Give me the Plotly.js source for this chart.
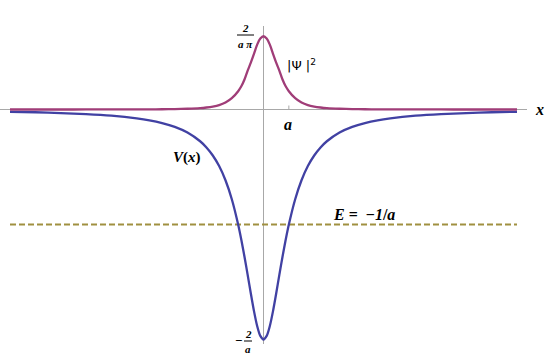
<!DOCTYPE html>
<html><head><meta charset="utf-8">
<script src="https://cdn.plot.ly/plotly-3.0.1.min.js"></script>
<style>html,body{margin:0;padding:0;background:#fff}#chart{width:545px;height:356px}</style>
</head><body><div id="chart"></div>
<script>
// x positions in units of a
const xs = [-10,-9,-8,-7,-6,-5,-4.5,-4,-3.5,-3,-2.5,-2.25,-2,-1.75,-1.5,-1.25,-1,-0.875,-0.75,-0.625,-0.5,-0.375,-0.25,-0.125,0,
            0.125,0.25,0.375,0.5,0.625,0.75,0.875,1,1.25,1.5,1.75,2,2.25,2.5,3,3.5,4,4.5,5,6,7,8,9,10];
// |Psi|^2 values (units of 1/a)
const psi = [0.0001,0.0001,0.0002,0.0003,0.0005,0.0009,0.0014,0.0022,0.0037,0.0064,0.0118,0.0175,0.0255,0.038,0.0603,0.098,0.159,0.202,0.261,0.338,0.407,0.484,0.564,0.617,0.637,
             0.617,0.564,0.484,0.407,0.338,0.261,0.202,0.159,0.098,0.0603,0.038,0.0255,0.0175,0.0118,0.0064,0.0037,0.0022,0.0014,0.0009,0.0005,0.0003,0.0002,0.0001,0.0001];
// V(x) values (units of 1/a)
const V = [-0.020,-0.024,-0.031,-0.040,-0.054,-0.077,-0.094,-0.118,-0.151,-0.200,-0.276,-0.330,-0.400,-0.492,-0.615,-0.780,-1.000,-1.133,-1.280,-1.438,-1.600,-1.753,-1.882,-1.969,-2.000,
           -1.969,-1.882,-1.753,-1.600,-1.438,-1.280,-1.133,-1.000,-0.780,-0.615,-0.492,-0.400,-0.330,-0.276,-0.200,-0.151,-0.118,-0.094,-0.077,-0.054,-0.040,-0.031,-0.024,-0.020];
const Ex = [-10, 10];
const Ey = [-1, -1];

const W = 545, H = 356;
const x0px = 263.5, xs_px = 25.35, y0px = 109.5, ys_px = 115;
const xmin = -x0px/xs_px, xmax = (W-x0px)/xs_px;
const ymax = y0px/ys_px, ymin = -(H-y0px)/ys_px;
const X = p => xmin + p/W*(xmax-xmin);
const Y = p => ymax - p/H*(ymax-ymin);

const serif = 'Liberation Serif';
const traces = [
  {x: Ex, y: Ey, mode:'lines', line:{color:'#a09040', width:2, dash:'6px,3px'}, hoverinfo:'skip'},
  {x: xs, y: V, mode:'lines', line:{color:'#4141a3', width:2.3, shape:'spline', smoothing:0.8}, hoverinfo:'skip'},
  {x: xs, y: psi, mode:'lines', line:{color:'#a03d78', width:2.3, shape:'spline', smoothing:0.8}, hoverinfo:'skip'}
];
const ann = (px, py, text, size, extra) => Object.assign({x:X(px), y:Y(py), xref:'x', yref:'y', text, showarrow:false,
  font:{family:serif, size, color:'#000'}, xanchor:'center', yanchor:'middle'}, extra||{});
const layout = {
  width:W, height:H, margin:{l:0,r:0,t:0,b:0}, paper_bgcolor:'#fff', plot_bgcolor:'#fff', showlegend:false,
  font:{family:serif},
  xaxis:{range:[xmin,xmax], visible:false, fixedrange:true},
  yaxis:{range:[ymin,ymax], visible:false, fixedrange:true},
  shapes:[
    {type:'line', xref:'x', yref:'y', x0:X(0), x1:X(527), y0:0, y1:0, line:{color:'#a8a8a8', width:1}, layer:'below'},
    {type:'line', xref:'x', yref:'y', x0:0, x1:0, y0:Y(26), y1:Y(344), line:{color:'#a8a8a8', width:1}, layer:'below'},
    {type:'line', xref:'x', yref:'y', x0:1, x1:1, y0:0, y1:Y(105.5), line:{color:'#a8a8a8', width:1}, layer:'below'},
    {type:'line', xref:'x', yref:'y', x0:X(237), x1:X(254), y0:Y(35), y1:Y(35), line:{color:'#000', width:1}},
    {type:'line', xref:'x', yref:'y', x0:X(244), x1:X(252), y0:Y(341), y1:Y(341), line:{color:'#000', width:1}}
  ],
  annotations:[
    ann(245.5, 28, '<b><i>2</i></b>', 11),
    ann(245.5, 43.5, '<b><i>a π</i></b>', 11),
    ann(238, 340.5, '<b>−</b>', 13),
    ann(248, 333.5, '<b><i>2</i></b>', 11),
    ann(248, 348.5, '<b><i>a</i></b>', 11),
    ann(288, 124, '<b><i>a</i></b>', 16),
    ann(539, 109, '<b><i>x</i></b>', 16),
    ann(301, 65, '|Ψ |<sup>2</sup>', 14, {font:{family:'DejaVu Sans', size:13, color:'#000'}}),
    ann(187, 157, '<b><i>V</i>(<i>x</i>)</b>', 15),
    ann(364, 214, '<b><i>E</i> =  −<i>1</i>/<i>a</i></b>', 16)
  ]
};
Plotly.newPlot('chart', traces, layout, {staticPlot:true, displayModeBar:false});
</script></body></html>
